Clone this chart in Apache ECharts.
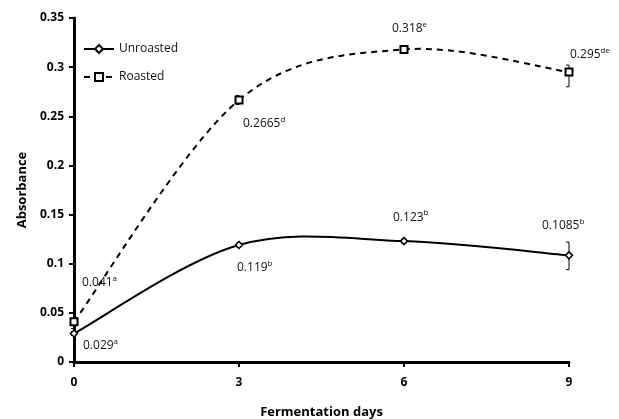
<!DOCTYPE html>
<html>
<head>
<meta charset="utf-8">
<title>absorbance</title>
<style>
  html, body { margin: 0; padding: 0; background: #fff; }
  #chart { width: 619px; height: 419px; }
</style>
</head>
<body>
<div id="chart"></div>
<script src="https://cdn.jsdelivr.net/npm/echarts@6/dist/echarts.min.js"></script>
<script>
// fermentation days
var days = [0, 3, 6, 9];
var unroasted = [0.029, 0.119, 0.123, 0.1085];
var roasted = [0.041, 0.2665, 0.318, 0.295];
// significance letters
var unroastedLetters = ['a', 'b', 'b', 'b'];
var roastedLetters = ['a', 'd', 'e', 'de'];
// error bar ends [low, high]
var unroastedErr = [[0.027, 0.031], [0.117, 0.121], [0.121, 0.125], [0.094, 0.122]];
var roastedErr = [[0.034, 0.050], [0.262, 0.271], [0.315, 0.321], [0.280, 0.302]];

var font = 'Open Sans';
var chart = echarts.init(document.getElementById('chart'));

// label offsets per point (x, y in px, relative to the point)
var unroastedOffsets = [[9, 12], [-2, 23], [-11, -24], [-27, -30]];
var roastedOffsets = [[8, -39], [4, 24], [-12, -21], [1, -17]];

function pointsWithLabels(vals, letters, offsets) {
    return vals.map(function (v, i) {
        return {
            value: [days[i], v],
            label: {
                show: true,
                position: 'inside',
                align: 'left',
                verticalAlign: 'middle',
                offset: offsets[i],
                formatter: '{n|' + v + '}{s|' + letters[i] + '}'
            }
        };
    });
}

var richText = {
    n: { fontFamily: font, fontSize: 12, color: '#111', lineHeight: 16 },
    s: { fontFamily: font, fontSize: 8, color: '#111', verticalAlign: 'top', lineHeight: 16, padding: [0, 0, 6, 0] }
};

function errorSeries(errs) {
    return {
        type: 'custom',
        silent: true,
        z: 1,
        data: errs.map(function (e, i) { return [days[i], e[0], e[1]]; }),
        renderItem: function (params, api) {
            var lo = api.coord([api.value(0), api.value(1)]);
            var hi = api.coord([api.value(0), api.value(2)]);
            var w = 3;
            var st = { stroke: '#000', lineWidth: 1 };
            return {
                type: 'group',
                children: [
                    { type: 'line', shape: { x1: lo[0], y1: lo[1], x2: hi[0], y2: hi[1] }, style: st },
                    { type: 'line', shape: { x1: lo[0] - w, y1: lo[1], x2: lo[0], y2: lo[1] }, style: st },
                    { type: 'line', shape: { x1: hi[0] - w, y1: hi[1], x2: hi[0], y2: hi[1] }, style: st }
                ]
            };
        }
    };
}

// Excel-style smoothed curve (Catmull-Rom as cubic bezier) through the points
function curveSeries(vals, dash) {
    return {
        type: 'custom',
        silent: true,
        z: 2,
        clip: false,
        data: vals.map(function (v, i) { return [days[i], v]; }),
        renderItem: function (params, api) {
            var i = params.dataIndex;
            if (i >= vals.length - 1) return null;
            var pts = vals.map(function (v, k) { return api.coord([days[k], v]); });
            var p0 = pts[Math.max(i - 1, 0)], p1 = pts[i], p2 = pts[i + 1], p3 = pts[Math.min(i + 2, pts.length - 1)];
            return {
                type: 'bezierCurve',
                shape: {
                    x1: p1[0], y1: p1[1],
                    cpx1: p1[0] + (p2[0] - p0[0]) / 6, cpy1: p1[1] + (p2[1] - p0[1]) / 6,
                    cpx2: p2[0] - (p3[0] - p1[0]) / 6, cpy2: p2[1] - (p3[1] - p1[1]) / 6,
                    x2: p2[0], y2: p2[1]
                },
                style: { stroke: '#000', lineWidth: 2, fill: null, lineDash: dash }
            };
        }
    };
}

var option = {
    animation: false,
    grid: { left: 74, right: 50, top: 18, bottom: 57, outerBoundsMode: 'none' },
    legend: {
        left: 78,
        top: 38,
        orient: 'vertical',
        itemGap: 16,
        itemWidth: 30,
        itemHeight: 10,
        textStyle: { fontFamily: font, fontSize: 12, color: '#111' },
        data: [
            { name: 'Unroasted', lineStyle: { opacity: 1, width: 2, color: '#000' } },
            { name: 'Roasted', lineStyle: { opacity: 1, width: 2, color: '#000', type: [6, 5] } }
        ]
    },
    xAxis: {
        type: 'value',
        min: 0,
        max: 9,
        interval: 3,
        name: 'Fermentation days',
        nameLocation: 'middle',
        nameGap: 44,
        nameTextStyle: { fontFamily: font, fontSize: 13, fontWeight: 'bold', color: '#000' },
        axisLine: { lineStyle: { color: '#000', width: 3 } },
        axisTick: { length: 5, lineStyle: { color: '#000', width: 2 } },
        axisLabel: { fontFamily: font, fontSize: 12, fontWeight: 'bold', color: '#000', margin: 15 },
        splitLine: { show: false }
    },
    yAxis: {
        type: 'value',
        min: 0,
        max: 0.35,
        interval: 0.05,
        name: 'Absorbance',
        nameLocation: 'middle',
        nameGap: 42,
        nameTextStyle: { fontFamily: font, fontSize: 13, fontWeight: 'bold', color: '#000' },
        axisLine: { show: true, lineStyle: { color: '#000', width: 3 } },
        axisTick: { show: true, length: 5, lineStyle: { color: '#000', width: 2 } },
        axisLabel: { fontFamily: font, fontSize: 12, fontWeight: 'bold', color: '#000', margin: 10 },
        splitLine: { show: false }
    },
    series: [
        errorSeries(unroastedErr),
        errorSeries(roastedErr),
        curveSeries(unroasted, null),
        curveSeries(roasted, [6, 5]),
        {
            name: 'Unroasted',
            type: 'line',
            z: 3,
            symbol: 'diamond',
            symbolSize: 7,
            showAllSymbol: true,
            itemStyle: { color: '#fff', borderColor: '#000', borderWidth: 1.5 },
            lineStyle: { color: '#000', width: 2, opacity: 0 },
            label: { rich: richText },
            data: pointsWithLabels(unroasted, unroastedLetters, unroastedOffsets)
        },
        {
            name: 'Roasted',
            type: 'line',
            z: 3,
            symbol: 'rect',
            symbolSize: 7,
            showAllSymbol: true,
            itemStyle: { color: '#fff', borderColor: '#000', borderWidth: 2 },
            lineStyle: { color: '#000', width: 2, type: [6, 5], opacity: 0 },
            label: { rich: richText },
            data: pointsWithLabels(roasted, roastedLetters, roastedOffsets)
        }
    ]
};
chart.setOption(option);
</script>
</body>
</html>
